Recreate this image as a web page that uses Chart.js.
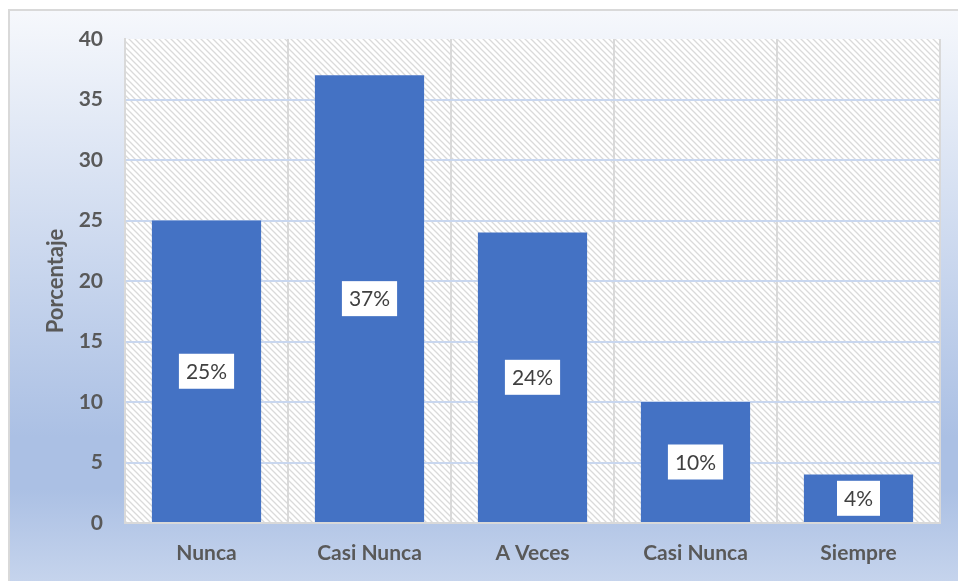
<!DOCTYPE html>
<html>
<head>
<meta charset="utf-8">
<script src="https://cdn.jsdelivr.net/npm/chart.js@4/dist/chart.umd.min.js"></script>
<style>
  html, body { margin: 0; padding: 0; width: 958px; height: 581px; overflow: hidden; background: #fff; }
  .frame {
    position: absolute; left: 8px; top: 9px; width: 960px; height: 580px;
    border: 2px solid #d9d9d9; box-sizing: border-box;
    background: linear-gradient(to bottom, #f6f8fc 0%, #abc0e4 74%, #abc0e4 83%, #c7d5ed 100%);
  }
  canvas { position: absolute; left: 0; top: 0; }
</style>
</head>
<body>
<div class="frame"></div>
<canvas id="grafico" width="958" height="581"></canvas>
<script>
// datos del gráfico
const categorias = ["Nunca", "Casi Nunca", "A Veces", "Casi Nunca", "Siempre"];
const porcentajes = [25, 37, 24, 10, 4];
const etiquetas = ["25%", "37%", "24%", "10%", "4%"];
const yTicks = [0, 5, 10, 15, 20, 25, 30, 35, 40];

const gris = "#595959";
const fuente = "Lato, 'Open Sans', sans-serif";

// trama diagonal del área de trazado
const makeHatch = (ctx) => {
  const c = document.createElement("canvas");
  c.width = 6; c.height = 6;
  const g = c.getContext("2d");
  g.fillStyle = "#ffffff";
  g.fillRect(0, 0, 6, 6);
  g.strokeStyle = "#dadada";
  g.lineWidth = 1.3;
  g.beginPath();
  g.moveTo(-1, -1); g.lineTo(7, 7);
  g.moveTo(-1, 5); g.lineTo(1, 7);
  g.moveTo(5, -1); g.lineTo(7, 1);
  g.stroke();
  return ctx.createPattern(c, "repeat");
};

const fondoPlot = {
  id: "fondoPlot",
  beforeDraw(chart) {
    const { ctx, chartArea: a } = chart;
    ctx.save();
    ctx.fillStyle = makeHatch(ctx);
    ctx.fillRect(a.left, a.top, a.right - a.left, a.bottom - a.top);
    ctx.restore();
  }
};

const etiquetasBarras = {
  id: "etiquetasBarras",
  afterDatasetsDraw(chart) {
    const { ctx } = chart;
    const meta = chart.getDatasetMeta(0);
    ctx.save();
    ctx.font = "21px " + fuente;
    ctx.textAlign = "center";
    ctx.textBaseline = "middle";
    meta.data.forEach((bar, i) => {
      const txt = etiquetas[i];
      const cy = (bar.y + bar.base) / 2;
      const w = ctx.measureText(txt).width + 14;
      const h = 35;
      ctx.fillStyle = "#ffffff";
      ctx.fillRect(bar.x - w / 2, cy - h / 2, w, h);
      ctx.fillStyle = "#404040";
      ctx.fillText(txt, bar.x, cy + 1);
    });
    ctx.restore();
  }
};

new Chart(document.getElementById("grafico"), {
  type: "bar",
  data: {
    labels: categorias,
    datasets: [{
      data: porcentajes,
      backgroundColor: "#4472c4",
      barPercentage: 0.67,
      categoryPercentage: 1
    }]
  },
  options: {
    responsive: false,
    animation: false,
    layout: { padding: { top: 39, right: 18, left: 0, bottom: 0 } },
    plugins: { legend: { display: false }, tooltip: { enabled: false } },
    scales: {
      x: {
        grid: { offset: true, color: "#d9d9d9", lineWidth: 2, drawTicks: false },
        border: { color: "#d9d9d9", width: 2 },
        ticks: { color: gris, padding: 18, font: { family: fuente, size: 21, weight: "bold" } },
        afterFit: (s) => { s.height = 58; }
      },
      y: {
        min: 0, max: 40,
        afterBuildTicks: (s) => { s.ticks = yTicks.map(v => ({ value: v })); },
        grid: {
          drawTicks: false, lineWidth: 2,
          color: (c) => (c.tick && (c.tick.value === 40 || c.tick.value === 0)) ? "rgba(0,0,0,0)" : "#c9d7ef"
        },
        border: { color: "#d9d9d9", width: 2 },
        ticks: { color: gris, padding: 22, font: { family: fuente, size: 21, weight: "bold" } },
        title: {
          display: true, text: "Porcentaje", color: gris,
          padding: { top: 43, bottom: 0 },
          font: { family: fuente, size: 22, weight: "bold" }
        },
        afterFit: (s) => { s.width = 125; }
      }
    }
  },
  plugins: [fondoPlot, etiquetasBarras]
});
</script>
</body>
</html>
